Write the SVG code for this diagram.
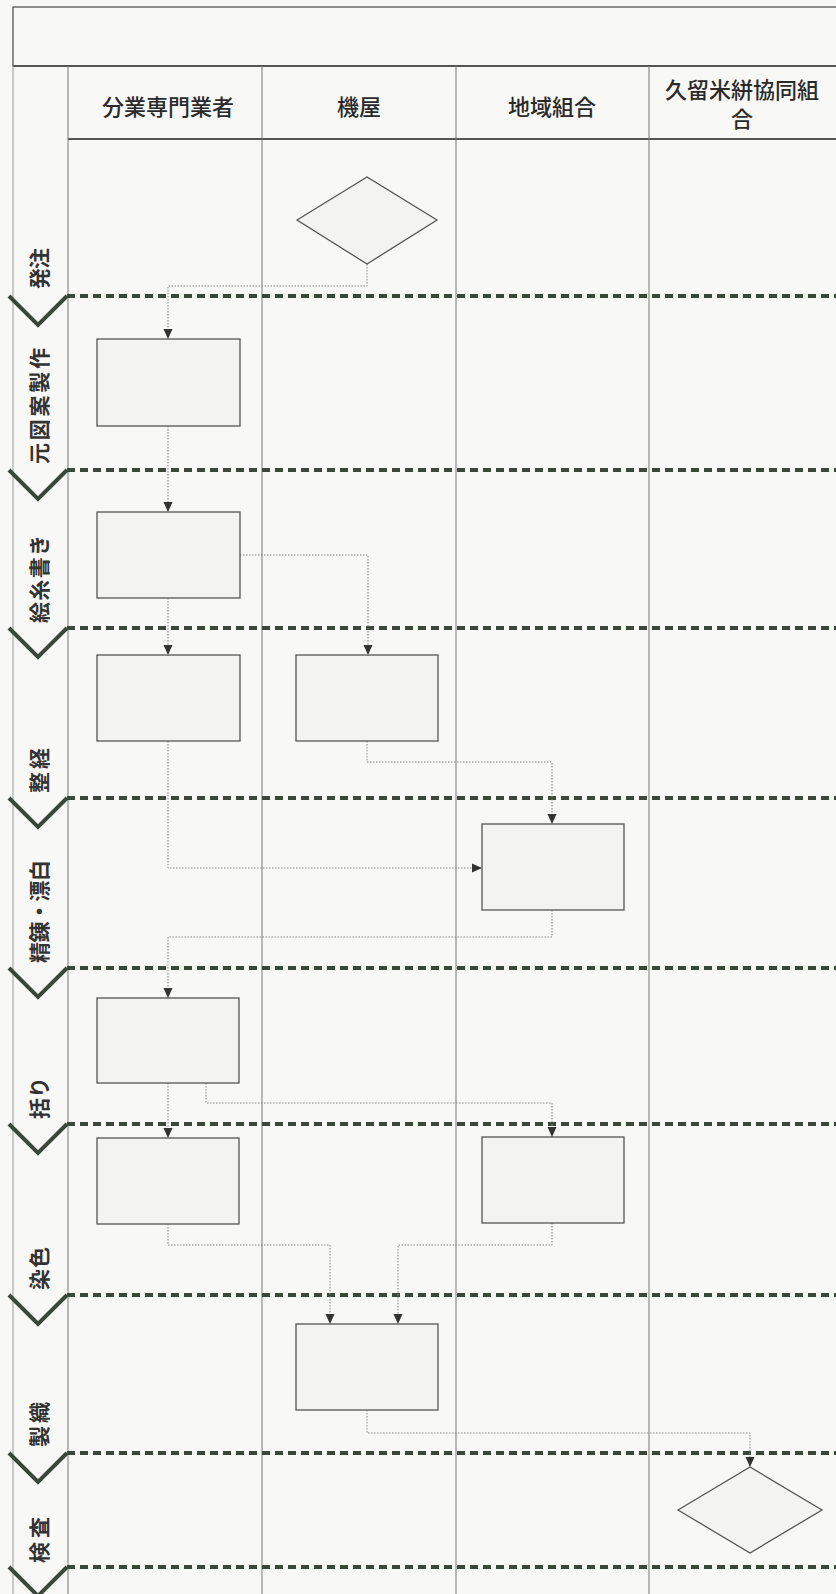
<svg xmlns="http://www.w3.org/2000/svg" width="836" height="1594" viewBox="0 0 836 1594">
<style>
.bg{fill:#f8f8f6}
.frame{fill:none;stroke:#555;stroke-width:1.3}
.thick{stroke:#555;stroke-width:2;fill:none}
.lane{stroke:#777;stroke-width:1;fill:none}
.strip{stroke:#999;stroke-width:1;fill:none}
.sep{stroke:#3b473b;stroke-width:4;stroke-dasharray:8 5;fill:none}
.chev{stroke:#3b473b;stroke-width:4;fill:none;stroke-linejoin:miter}
.node{fill:#f3f3f1;stroke:#555;stroke-width:1.3}
.conn{stroke:#888;stroke-width:1;stroke-dasharray:1.5 1.5;fill:none;marker-end:url(#arr)}
.hdr{font-family:"Noto Sans CJK JP",sans-serif;font-size:22px;font-weight:500;fill:#2a2a2a;text-anchor:middle;dominant-baseline:central}
.lbl{font-family:"Noto Sans CJK JP",sans-serif;font-size:21px;font-weight:700;fill:#333;dominant-baseline:central}
</style>
<defs>
<marker id="arr" markerUnits="userSpaceOnUse" markerWidth="10" markerHeight="10" viewBox="0 0 10 10" refX="10" refY="5" orient="auto">
<path d="M0,0.5 L10,5 L0,9.5 Z" fill="#333"/>
</marker>
</defs>
<rect class="bg" x="0" y="0" width="836" height="1594"/>
<g id="frame">
<rect class="frame" x="13" y="7" width="830" height="59"/>
<line class="thick" x1="13" y1="66" x2="836" y2="66"/>
<line class="thick" x1="68" y1="139" x2="836" y2="139"/>
<line class="strip" x1="13" y1="66" x2="13" y2="1594"/>
<line class="lane" x1="68" y1="66" x2="68" y2="1594"/>
<line class="lane" x1="262" y1="66" x2="262" y2="1594"/>
<line class="lane" x1="456" y1="66" x2="456" y2="1594"/>
<line class="lane" x1="649" y1="66" x2="649" y2="1594"/>
</g>
<g id="headers">
<text class="hdr" x="168" y="105">分業専門業者</text>
<text class="hdr" x="359" y="105">機屋</text>
<text class="hdr" x="552" y="105">地域組合</text>
<text class="hdr" x="742" y="88">久留米絣協同組</text>
<text class="hdr" x="742" y="117">合</text>
</g>
<g id="separators">
<line class="sep" x1="67" y1="296" x2="836" y2="296"/>
<line class="sep" x1="67" y1="470" x2="836" y2="470"/>
<line class="sep" x1="67" y1="628" x2="836" y2="628"/>
<line class="sep" x1="67" y1="798" x2="836" y2="798"/>
<line class="sep" x1="67" y1="968" x2="836" y2="968"/>
<line class="sep" x1="67" y1="1124" x2="836" y2="1124"/>
<line class="sep" x1="67" y1="1295" x2="836" y2="1295"/>
<line class="sep" x1="67" y1="1453" x2="836" y2="1453"/>
<line class="sep" x1="67" y1="1567" x2="836" y2="1567"/>
<polyline class="chev" points="9,296 38,325 67,296"/>
<polyline class="chev" points="9,470 38,499 67,470"/>
<polyline class="chev" points="9,628 38,657 67,628"/>
<polyline class="chev" points="9,798 38,827 67,798"/>
<polyline class="chev" points="9,968 38,997 67,968"/>
<polyline class="chev" points="9,1124 38,1153 67,1124"/>
<polyline class="chev" points="9,1295 38,1324 67,1295"/>
<polyline class="chev" points="9,1453 38,1482 67,1453"/>
<polyline class="chev" points="9,1567 38,1596 67,1567"/>
</g>
<g id="phase-labels">
<text class="lbl" transform="translate(38,289) rotate(-90)" textLength="41" lengthAdjust="spacing">発注</text>
<text class="lbl" transform="translate(38,464) rotate(-90)" textLength="116" lengthAdjust="spacing">元図案製作</text>
<text class="lbl" transform="translate(38,623) rotate(-90)" textLength="88" lengthAdjust="spacing">絵糸書き</text>
<text class="lbl" transform="translate(38,793) rotate(-90)" textLength="45" lengthAdjust="spacing">整経</text>
<text class="lbl" transform="translate(38,963) rotate(-90)" textLength="103" lengthAdjust="spacing">精錬・漂白</text>
<text class="lbl" transform="translate(38,1119) rotate(-90)">括り</text>
<text class="lbl" transform="translate(38,1290) rotate(-90)" textLength="43" lengthAdjust="spacing">染色</text>
<text class="lbl" transform="translate(38,1447) rotate(-90)" textLength="45" lengthAdjust="spacing">製織</text>
<text class="lbl" transform="translate(38,1563) rotate(-90)" textLength="46" lengthAdjust="spacing">検査</text>
</g>
<g id="connectors">
<path class="conn" d="M367,264 V286 H168 V339"/>
<path class="conn" d="M168,426 V512"/>
<path class="conn" d="M240,555 H368 V655"/>
<path class="conn" d="M168,598 V655"/>
<path class="conn" d="M367,741 V762 H552 V824"/>
<path class="conn" d="M168,741 V868 H482"/>
<path class="conn" d="M552,910 V937 H168 V998"/>
<path class="conn" d="M206,1083 V1103 H552 V1137"/>
<path class="conn" d="M168,1083 V1138"/>
<path class="conn" d="M168,1224 V1245 H330 V1324"/>
<path class="conn" d="M552,1223 V1245 H398 V1324"/>
<path class="conn" d="M367,1410 V1433 H750 V1467"/>
</g>
<g id="n-order"><polygon class="node" points="297,220 367,177 437,220 367,264"/></g>
<g id="n-design"><rect class="node" x="97" y="339" width="143" height="87"/></g>
<g id="n-kasuri-draw"><rect class="node" x="97" y="512" width="143" height="86"/></g>
<g id="n-warp-spec"><rect class="node" x="97" y="655" width="143" height="86"/></g>
<g id="n-warp-weaver"><rect class="node" x="296" y="655" width="142" height="86"/></g>
<g id="n-scour"><rect class="node" x="482" y="824" width="142" height="86"/></g>
<g id="n-bind"><rect class="node" x="97" y="998" width="142" height="85"/></g>
<g id="n-dye-spec"><rect class="node" x="97" y="1138" width="142" height="86"/></g>
<g id="n-dye-union"><rect class="node" x="482" y="1137" width="142" height="86"/></g>
<g id="n-weave"><rect class="node" x="296" y="1324" width="142" height="86"/></g>
<g id="n-inspect"><polygon class="node" points="678,1510 750,1467 822,1510 750,1553"/></g>
</svg>
